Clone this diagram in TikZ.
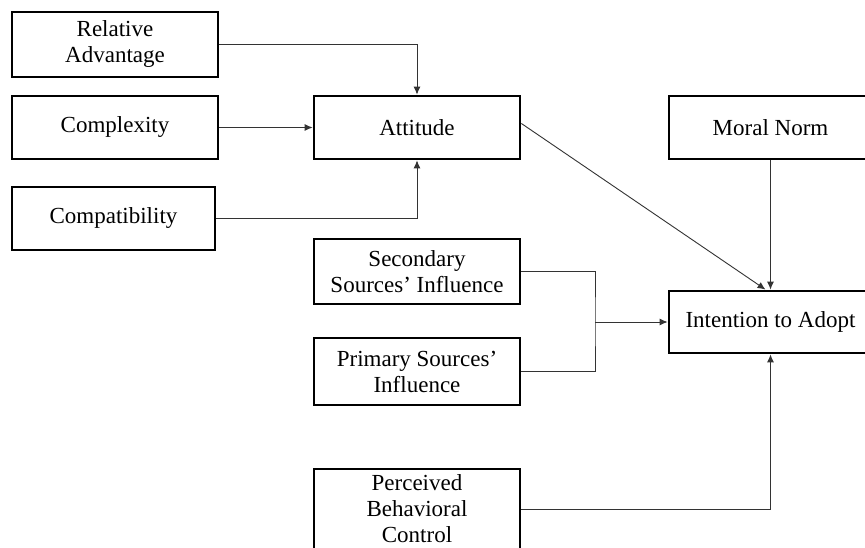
\documentclass[tikz,border=0pt]{standalone}
\usepackage{fontspec}
\setmainfont{Liberation Serif}
\usepackage{tikz}
\usetikzlibrary{arrows.meta, positioning, calc}

\tikzset{
    factor/.style={draw, line width=2.8pt, align=center, inner sep=2pt,
        font=\fontsize{23}{26}\selectfont, minimum height=63pt},
    link/.style={line width=0.9pt, draw=black!80},
    arr/.style={link, -{Latex[length=8pt, width=7pt]}}
}

\begin{document}
\begin{tikzpicture}[x=1pt, y=-1pt]
    % canvas 865 x 548, boxes running off the right and bottom edges are cut
    \fill[white] (0,0) rectangle (865,548);
    \useasboundingbox (0,0) rectangle (865,548);
    \clip (0,0) rectangle (865,548);
    % left column: innovation attributes
    \node[factor, minimum width=206pt, minimum height=65pt] (relAdv) at (115,44.5) {Relative\\Advantage};
    \node[factor, minimum width=206pt] (cplx) at (115,127.5) {Complexity};
    \node[factor, minimum width=203pt] (compat) at (113.5,218.5) {Compatibility};
    % middle column
    \node[factor, minimum width=206pt] (att) at (417,127.5) {Attitude};
    \node[factor, minimum width=206pt, minimum height=65pt] (sec) at (417,271.5) {Secondary\\Sources' Influence};
    \node[factor, minimum width=206pt, minimum height=67pt] (prim) at (417,371.5) {Primary Sources'\\Influence};
    \node[factor, minimum width=206pt, minimum height=80pt] (pbc) at (417,509) {Perceived\\Behavioral\\Control};
    % right column
    \node[factor, minimum width=203pt] (moral) at (770.5,127.5) {Moral Norm};
    \node[factor, minimum width=203pt, minimum height=62pt] (intent) at (770.5,322) {Intention to Adopt};
    % attributes -> attitude
    \draw[arr] (relAdv.east) -| (att.north);
    \draw[arr] (cplx.east) -- (att.west);
    \draw[arr] (compat.east) -| (att.south);
    % predictors -> intention
    \draw[arr] ([yshift=4pt]att.east) -- ([xshift=-5pt]intent.north);
    \draw[arr] (moral.south) -- (intent.north);
    \coordinate (srcJoin) at (595,322);
    \draw[link] (sec.east) -| (srcJoin) |- (prim.east);
    \draw[arr] (srcJoin) -- (intent.west);
    \draw[arr] (pbc.east) -| (intent.south);
\end{tikzpicture}
\end{document}
